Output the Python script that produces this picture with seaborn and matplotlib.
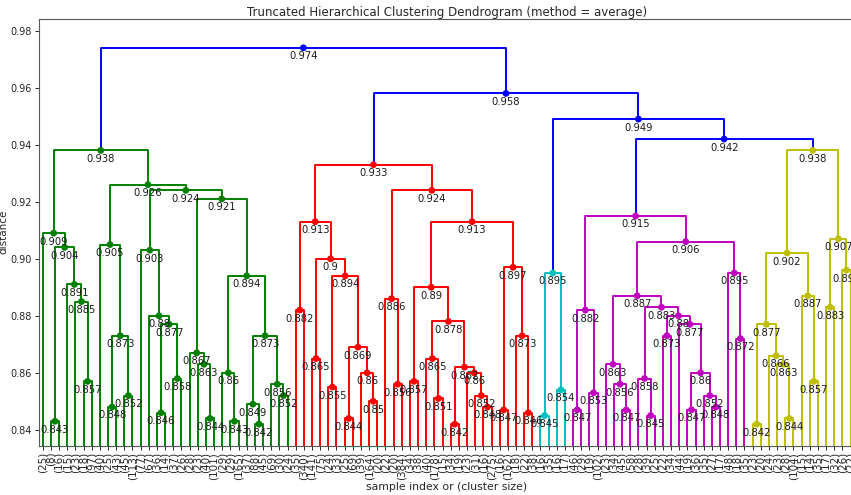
import matplotlib
matplotlib.use("Agg")
import matplotlib.pyplot as plt
from matplotlib import font_manager
import pandas as pd
import seaborn as sns

# Leaf labels (contracted cluster sizes), left to right
green_sizes = [25, 8, 16, 15, 23, 18, 97, 40, 25, 43, 45, 113, 77, 67, 36, 14,
               37, 26, 28, 23, 40, 101, 29, 29, 165, 37, 88, 45, 69, 30, 24]
red_sizes = [35, 340, 141, 75, 24, 33, 25, 69, 39, 164, 20, 22, 20, 384, 34,
             38, 40, 178, 15, 34, 19, 23, 31, 16, 275, 16, 162, 18, 22, 38]
cyan_sizes = [16, 35, 16, 17]
magenta_sizes = [46, 29, 19, 102, 23, 34, 45, 58, 28, 39, 25, 22, 34, 44, 19,
                 36, 35, 27, 17, 48, 18, 35]
yellow_sizes = [23, 20, 24, 23, 28, 104, 15, 14, 35, 17, 32, 26, 22]

# Merge trees: (left, right, distance); ints are leaf positions
green_tree = (
    (0, ((1, 2, .843), (3, (4, (5, 6, .857), .885), .891), .904), .909),
    ((7, ((8, 9, .848), (10, 11, .852), .873), .905),
     ((12, (13, ((14, 15, .846), (16, 17, .858), .877), .88), .903),
      ((18, (19, (20, 21, .844), .863), .867),
       ((22, (23, 24, .843), .86),
        ((25, (26, 27, .842), .849), (28, (29, 30, .852), .856), .873), .894),
       .921), .924), .926), .938)

red_tree = (
    ((31, 32, .882),
     ((33, 34, .865),
      ((35, 36, .855), ((37, 38, .844), (39, (40, 41, .85), .86), .869), .894),
      .9), .913),
    ((42, (43, 44, .856), .886),
     (((45, 46, .857),
       ((47, (48, 49, .851), .865),
        ((50, 51, .842), (52, (53, (54, 55, .848), .852), .86), .862), .878),
       .89),
      ((56, 57, .847), (58, (59, 60, .846), .873), .897), .913), .924), .933)

cyan_tree = ((61, 62, .845), (63, 64, .854), .895)

magenta_tree = (
    ((65, 66, .847), (67, 68, .853), .882),
    (((69, (70, (71, 72, .847), .856), .863),
      ((73, (74, 75, .845), .858),
       ((76, 77, .873),
        (78, ((79, 80, .847), (81, (82, 83, .848), .852), .86), .877), .88),
       .883), .887),
     (84, (85, 86, .872), .895), .906), .915)

yellow_tree = (
    (((87, 88, .842), (89, (90, (91, 92, .844), .863), .866), .877),
     (93, (94, 95, .857), .887), .902),
    ((96, 97, .883), (98, 99, .896), .907), .938)

top_heights = [.942, .949, .958, .974]
cluster_colors = ["g", "r", "c", "m", "y"]
above_color = "b"

full_tree = (green_tree,
             (red_tree,
              (cyan_tree,
               (magenta_tree, yellow_tree, top_heights[0]),
               top_heights[1]),
              top_heights[2]),
             top_heights[3])

leaf_labels = ["(%d)" % s for s in
               green_sizes + red_sizes + cyan_sizes + magenta_sizes + yellow_sizes]
n_leaves = len(leaf_labels)

# ---- lay out the tree in dendrogram coordinates ----
segments = []   # rows: seg, x, y, color
nodes = []      # rows: x, y, color
cluster_roots = {id(t): c for t, c in
                 zip([green_tree, red_tree, cyan_tree, magenta_tree, yellow_tree],
                     cluster_colors)}


def layout(node, color):
    if isinstance(node, int):
        return 5 + 10 * node, 0.0
    left, right, h = node
    color = cluster_roots.get(id(node), color)
    xl, yl = layout(left, color)
    xr, yr = layout(right, color)
    seg = len(segments)
    for x, y in [(xl, yl), (xl, h), (xr, h), (xr, yr)]:
        segments.append((seg, x, y, color))
    xm = 0.5 * (xl + xr)
    nodes.append((xm, h, color))
    return xm, h


layout(full_tree, above_color)
seg_df = pd.DataFrame(segments, columns=["seg", "x", "y", "color"])
node_df = pd.DataFrame(nodes, columns=["x", "y", "color"])

# ---- styling ----
sns.set_style("ticks")
names = {f.name for f in font_manager.fontManager.ttflist}
main_font = "Liberation Sans Narrow" if "Liberation Sans Narrow" in names else "DejaVu Sans"
plt.rcParams["font.family"] = [main_font, "DejaVu Sans"]
plt.rcParams["axes.edgecolor"] = "0.35"
plt.rcParams["axes.linewidth"] = 0.8

fig = plt.figure(figsize=(8.51, 4.95), dpi=100)
ax = fig.add_axes([0.0454, 0.1, 0.9589, 0.8616])

palette = {c: c for c in cluster_colors + [above_color]}
sns.lineplot(data=seg_df, x="x", y="y", units="seg", estimator=None,
             hue="color", palette=palette, sort=False, legend=False,
             lw=1.4, ax=ax)
sns.scatterplot(data=node_df, x="x", y="y", hue="color", palette=palette,
                s=24, linewidth=0, legend=False, ax=ax, zorder=3)

for _, r in node_df.iterrows():
    ax.annotate("%.3g" % r["y"], (r["x"], r["y"]), xytext=(0, -2.5),
                textcoords="offset points", va="top", ha="center",
                fontsize=7.2, color="0.1")

ax.set_xlim(0, 10 * n_leaves)
ax.set_ylim(0.8345, 0.9841)
ax.set_yticks([0.84, 0.86, 0.88, 0.90, 0.92, 0.94, 0.96, 0.98])
ax.set_yticklabels(["0.84", "0.86", "0.88", "0.90", "0.92", "0.94", "0.96", "0.98"])
ax.set_xticks([5 + 10 * i for i in range(n_leaves)])
ax.set_xticklabels(leaf_labels, rotation=90, fontsize=7.5)
ax.tick_params(axis="y", labelsize=7, length=3, width=0.7, pad=2)
ax.tick_params(axis="x", length=3, width=0.7, pad=1.5)
ax.set_xlabel("sample index or (cluster size)", fontsize=7.8, labelpad=2)
ax.set_ylabel("distance", fontsize=7.5, labelpad=1)
ax.set_title("Truncated Hierarchical Clustering Dendrogram (method = average)",
             fontsize=8.5, pad=2.5)

fig.savefig("out.png", dpi=100)
